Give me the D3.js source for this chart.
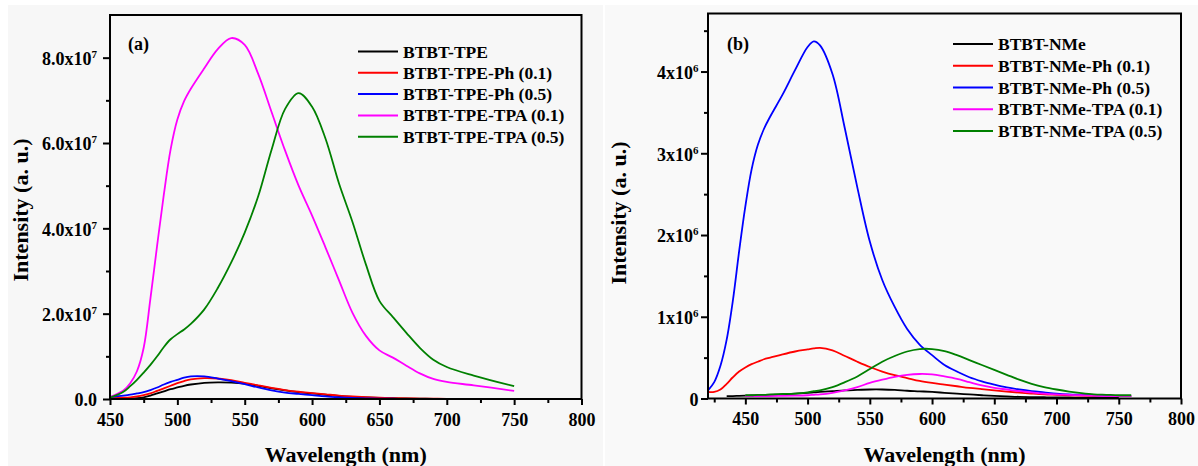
<!DOCTYPE html>
<html>
<head>
<meta charset="utf-8">
<script src="https://cdn.jsdelivr.net/npm/d3@7"></script>
<style>
  html, body { margin: 0; padding: 0; background: #ffffff; }
  svg { display: block; }
</style>
</head>
<body>
<svg id="chart" width="1198" height="466"></svg>
<script>
// ---------- Panel (a): BTBT-TPE family, intensity in units of 10^7 ----------
const wavelengthA = [450,460,465,470,475,480,485,490,495,500,505,510,520,530,540,550,560,570,580,590,
                     600,610,620,630,640,650,660,670,680,690,700,720,750,775];
const btbtTpe      = [0,0.005,0.01,0.02,0.04,0.08,0.13,0.18,0.23,0.27,0.31,0.34,0.38,0.39,0.385,0.36,0.31,0.25,0.2,0.16,
                      0.13,0.1,0.07,0.05,0.035,0.025,0.018,0.012,0.008,0.005,0.004,0.002,0.001,0];
const btbtTpePh01  = [0.02,0.03,0.04,0.06,0.09,0.13,0.19,0.25,0.31,0.37,0.42,0.46,0.49,0.48,0.44,0.38,0.32,0.26,0.21,0.17,
                      0.14,0.11,0.08,0.06,0.045,0.03,0.02,0.015,0.01,0.007,0.005,0.003,0.001,0];
const btbtTpePh05  = [0.05,0.08,0.1,0.13,0.16,0.21,0.27,0.34,0.4,0.45,0.5,0.53,0.53,0.48,0.42,0.35,0.27,0.2,0.15,0.12,
                      0.09,0.06,0.04,0.025,0.015,0.01,0.006,0.004,0.003,0.002,0.001,0.001,0,0];
const btbtTpeTpa01 = [0.05,0.2,0.37,0.65,1.2,2.35,3.6,4.8,5.85,6.55,6.98,7.27,7.75,8.2,8.46,8.3,7.62,6.72,5.82,5.0,
                      4.3,3.55,2.78,2.02,1.48,1.14,0.97,0.78,0.6,0.47,0.4,0.32,0.19,null];
const btbtTpeTpa05 = [0.03,0.17,0.3,0.45,0.62,0.8,1.0,1.22,1.4,1.52,1.63,1.76,2.1,2.6,3.2,3.9,4.75,5.85,6.8,7.17,
                      6.85,6.1,5.05,4.15,3.15,2.3,1.92,1.55,1.2,0.92,0.75,0.55,0.3,null];
const legendA = ["BTBT-TPE","BTBT-TPE-Ph (0.1)","BTBT-TPE-Ph (0.5)","BTBT-TPE-TPA (0.1)","BTBT-TPE-TPA (0.5)"];
const yMajorA = [0,2,4,6,8];
const yMinorA = [1,3,5,7];

// ---------- Panel (b): BTBT-NMe family, intensity in units of 10^6 ----------
const wavelengthB = [420,425,430,435,440,445,450,455,460,465,470,480,490,500,505,510,520,530,540,550,
                     560,570,580,590,600,610,620,630,640,650,660,670,680,690,700,710,720,730,740,750,760];
const btbtNMe      = [null,null,null,0.03,0.03,0.033,0.035,0.037,0.04,0.042,0.045,0.05,0.06,0.07,0.075,0.08,0.09,0.1,0.105,0.11,
                      0.11,0.105,0.095,0.088,0.08,0.07,0.06,0.05,0.04,0.032,0.026,0.02,0.017,0.015,0.013,0.012,0.011,0.01,0.01,0.01,null];
const btbtNMePh01  = [0.08,0.08,0.11,0.18,0.26,0.33,0.38,0.42,0.45,0.48,0.5,0.54,0.575,0.6,0.612,0.62,0.59,0.52,0.45,0.385,
                      0.33,0.285,0.25,0.215,0.19,0.17,0.15,0.13,0.115,0.1,0.085,0.072,0.06,0.05,0.045,0.04,0.035,0.032,0.03,0.03,0.03];
const btbtNMePh05  = [0.1,0.2,0.4,0.72,1.2,1.8,2.35,2.8,3.1,3.3,3.45,3.72,4.02,4.3,4.37,4.32,3.97,3.3,2.58,1.92,
                      1.45,1.12,0.85,0.66,0.53,0.41,0.33,0.26,0.21,0.17,0.135,0.11,0.09,0.075,0.06,0.05,0.045,0.04,0.035,0.03,0.03];
const btbtNMeTpa01 = [null,null,null,null,null,null,0.03,0.03,0.03,0.03,0.03,0.032,0.035,0.04,0.045,0.05,0.07,0.1,0.14,0.19,
                      0.23,0.265,0.29,0.3,0.295,0.27,0.24,0.2,0.16,0.13,0.11,0.09,0.075,0.06,0.05,0.045,0.04,0.035,0.03,0.03,0.03];
const btbtNMeTpa05 = [null,null,null,null,null,null,0.04,0.04,0.045,0.045,0.05,0.055,0.06,0.075,0.09,0.1,0.14,0.2,0.27,0.36,
                      0.45,0.52,0.575,0.605,0.605,0.58,0.53,0.47,0.41,0.35,0.29,0.23,0.18,0.14,0.11,0.085,0.065,0.05,0.045,0.04,0.04];
const legendB = ["BTBT-NMe","BTBT-NMe-Ph (0.1)","BTBT-NMe-Ph (0.5)","BTBT-NMe-TPA (0.1)","BTBT-NMe-TPA (0.5)"];
const yMajorB = [0,1,2,3,4];
const yMinorB = [0.5,1.5,2.5,3.5,4.5];

const xMajor = [450,500,550,600,650,700,750,800];
const seriesColors = ["#000000","#ff0000","#0000ff","#ff00ff","#008000"];

const FONT = "'Liberation Serif','Times New Roman',Times,serif";
const svg = d3.select("#chart");

// faint paper tone behind each panel
svg.append("rect").attr("x",8).attr("y",5).attr("width",595).attr("height",461).attr("fill","#f7f7f7");
svg.append("rect").attr("x",605).attr("y",5).attr("width",593).attr("height",461).attr("fill","#f9f9f9");

function drawPanel(cfg) {
  const x = d3.scaleLinear().domain(cfg.xDomain).range([cfg.left, cfg.right]);
  const y = d3.scaleLinear().domain(cfg.yDomain).range([cfg.bottom, cfg.top]);
  const g = svg.append("g");

  const clipId = "clip-" + cfg.id;
  g.append("clipPath").attr("id", clipId).append("rect")
    .attr("x", cfg.left).attr("y", cfg.top)
    .attr("width", cfg.right - cfg.left).attr("height", cfg.bottom - cfg.top);

  // spectra
  const line = d3.line()
    .defined(d => d[1] !== null)
    .x(d => x(d[0])).y(d => y(d[1]))
    .curve(d3.curveCatmullRom.alpha(0.5));
  const lines = g.append("g").attr("clip-path", `url(#${clipId})`);
  cfg.series.forEach((vals, i) => {
    const pts = cfg.wavelength.map((w, k) => [w, vals[k]]);
    lines.append("path").datum(pts)
      .attr("fill", "none").attr("stroke", seriesColors[i])
      .attr("stroke-width", 1.8).attr("stroke-linejoin", "round")
      .attr("d", line);
  });

  // minor ticks
  g.append("g").attr("transform", `translate(0,${cfg.bottom})`)
    .call(d3.axisBottom(x).tickValues(cfg.xMinor).tickSize(4).tickFormat(""))
    .call(s => s.select(".domain").remove())
    .selectAll("line").attr("stroke-width", 2);
  g.append("g").attr("transform", `translate(${cfg.left},0)`)
    .call(d3.axisLeft(y).tickValues(cfg.yMinor).tickSize(4).tickFormat(""))
    .call(s => s.select(".domain").remove())
    .selectAll("line").attr("stroke-width", 2);

  // major x ticks
  const gx = g.append("g").attr("transform", `translate(0,${cfg.bottom})`)
    .call(d3.axisBottom(x).tickValues(xMajor).tickSize(6).tickPadding(8).tickFormat(d3.format("d")));
  gx.select(".domain").remove();
  gx.selectAll("line").attr("stroke-width", 2);
  gx.selectAll("text").attr("font-family", FONT).attr("font-weight", "bold")
    .attr("font-size", 18).attr("fill", "#000");

  // major y ticks with power-of-ten labels
  const gy = g.append("g").attr("transform", `translate(${cfg.left},0)`)
    .call(d3.axisLeft(y).tickValues(cfg.yMajor).tickSize(7).tickPadding(cfg.yPad));
  gy.select(".domain").remove();
  gy.selectAll("line").attr("stroke-width", 2);
  gy.selectAll("text").attr("font-family", FONT).attr("font-weight", "bold")
    .attr("font-size", 18).attr("fill", "#000").attr("dy", "0.38em")
    .each(function(d) {
      const t = d3.select(this).text(null);
      if (d === 0) { t.text(cfg.zeroLabel); return; }
      t.append("tspan").text(cfg.mantissa(d) + "x10");
      t.append("tspan").attr("font-size", 11).attr("dy", -7).text(cfg.exponent);
    });

  // frame
  g.append("rect").attr("x", cfg.left).attr("y", cfg.top)
    .attr("width", cfg.right - cfg.left).attr("height", cfg.bottom - cfg.top)
    .attr("fill", "none").attr("stroke", "#000").attr("stroke-width", 2);

  // panel tag
  g.append("text").attr("x", cfg.tagX).attr("y", 50)
    .attr("font-family", FONT).attr("font-weight", "bold").attr("font-size", 18)
    .text(cfg.tag);

  // legend
  const leg = g.append("g");
  cfg.legend.forEach((name, i) => {
    const ly = cfg.legY + i * cfg.legStep;
    leg.append("line").attr("x1", cfg.legX).attr("x2", cfg.legX + 40)
      .attr("y1", ly).attr("y2", ly)
      .attr("stroke", seriesColors[i]).attr("stroke-width", 2);
    leg.append("text").attr("x", cfg.legX + 45).attr("y", ly + 6)
      .attr("font-family", FONT).attr("font-weight", "bold").attr("font-size", 17.5)
      .text(name);
  });

  // axis titles
  g.append("text").attr("x", (cfg.left + cfg.right) / 2).attr("y", 462)
    .attr("text-anchor", "middle")
    .attr("font-family", FONT).attr("font-weight", "bold").attr("font-size", 22)
    .text("Wavelength (nm)");
  g.append("text")
    .attr("transform", `translate(${cfg.yTitleX},${cfg.yTitleY}) rotate(-90)`)
    .attr("text-anchor", "middle").attr("dominant-baseline", "central")
    .attr("font-family", FONT).attr("font-weight", "bold").attr("font-size", 22)
    .text("Intensity (a. u.)");
}

drawPanel({
  id: "a",
  left: 110, right: 581.5, top: 15, bottom: 399,
  xDomain: [450, 800], yDomain: [0, 9.0],
  xMinor: [475,525,575,625,675,725,775],
  yMajor: yMajorA, yMinor: yMinorA, yPad: 6,
  zeroLabel: "0.0", mantissa: d => d3.format(".1f")(d), exponent: "7",
  wavelength: wavelengthA,
  series: [btbtTpe, btbtTpePh01, btbtTpePh05, btbtTpeTpa01, btbtTpeTpa05],
  legend: legendA, legX: 358, legY: 51.5, legStep: 21.3,
  tag: "(a)", tagX: 128,
  yTitleX: 20, yTitleY: 210
});

drawPanel({
  id: "b",
  left: 708, right: 1181, top: 13.5, bottom: 398.5,
  xDomain: [420, 800], yDomain: [0, 4.71],
  xMinor: [425,475,525,575,625,675,725,775],
  yMajor: yMajorB, yMinor: yMinorB, yPad: 2.5,
  zeroLabel: "0", mantissa: d => d3.format("d")(d), exponent: "6",
  wavelength: wavelengthB,
  series: [btbtNMe, btbtNMePh01, btbtNMePh05, btbtNMeTpa01, btbtNMeTpa05],
  legend: legendB, legX: 953, legY: 44, legStep: 21.75,
  tag: "(b)", tagX: 727,
  yTitleX: 618, yTitleY: 213
});
</script>
</body>
</html>
